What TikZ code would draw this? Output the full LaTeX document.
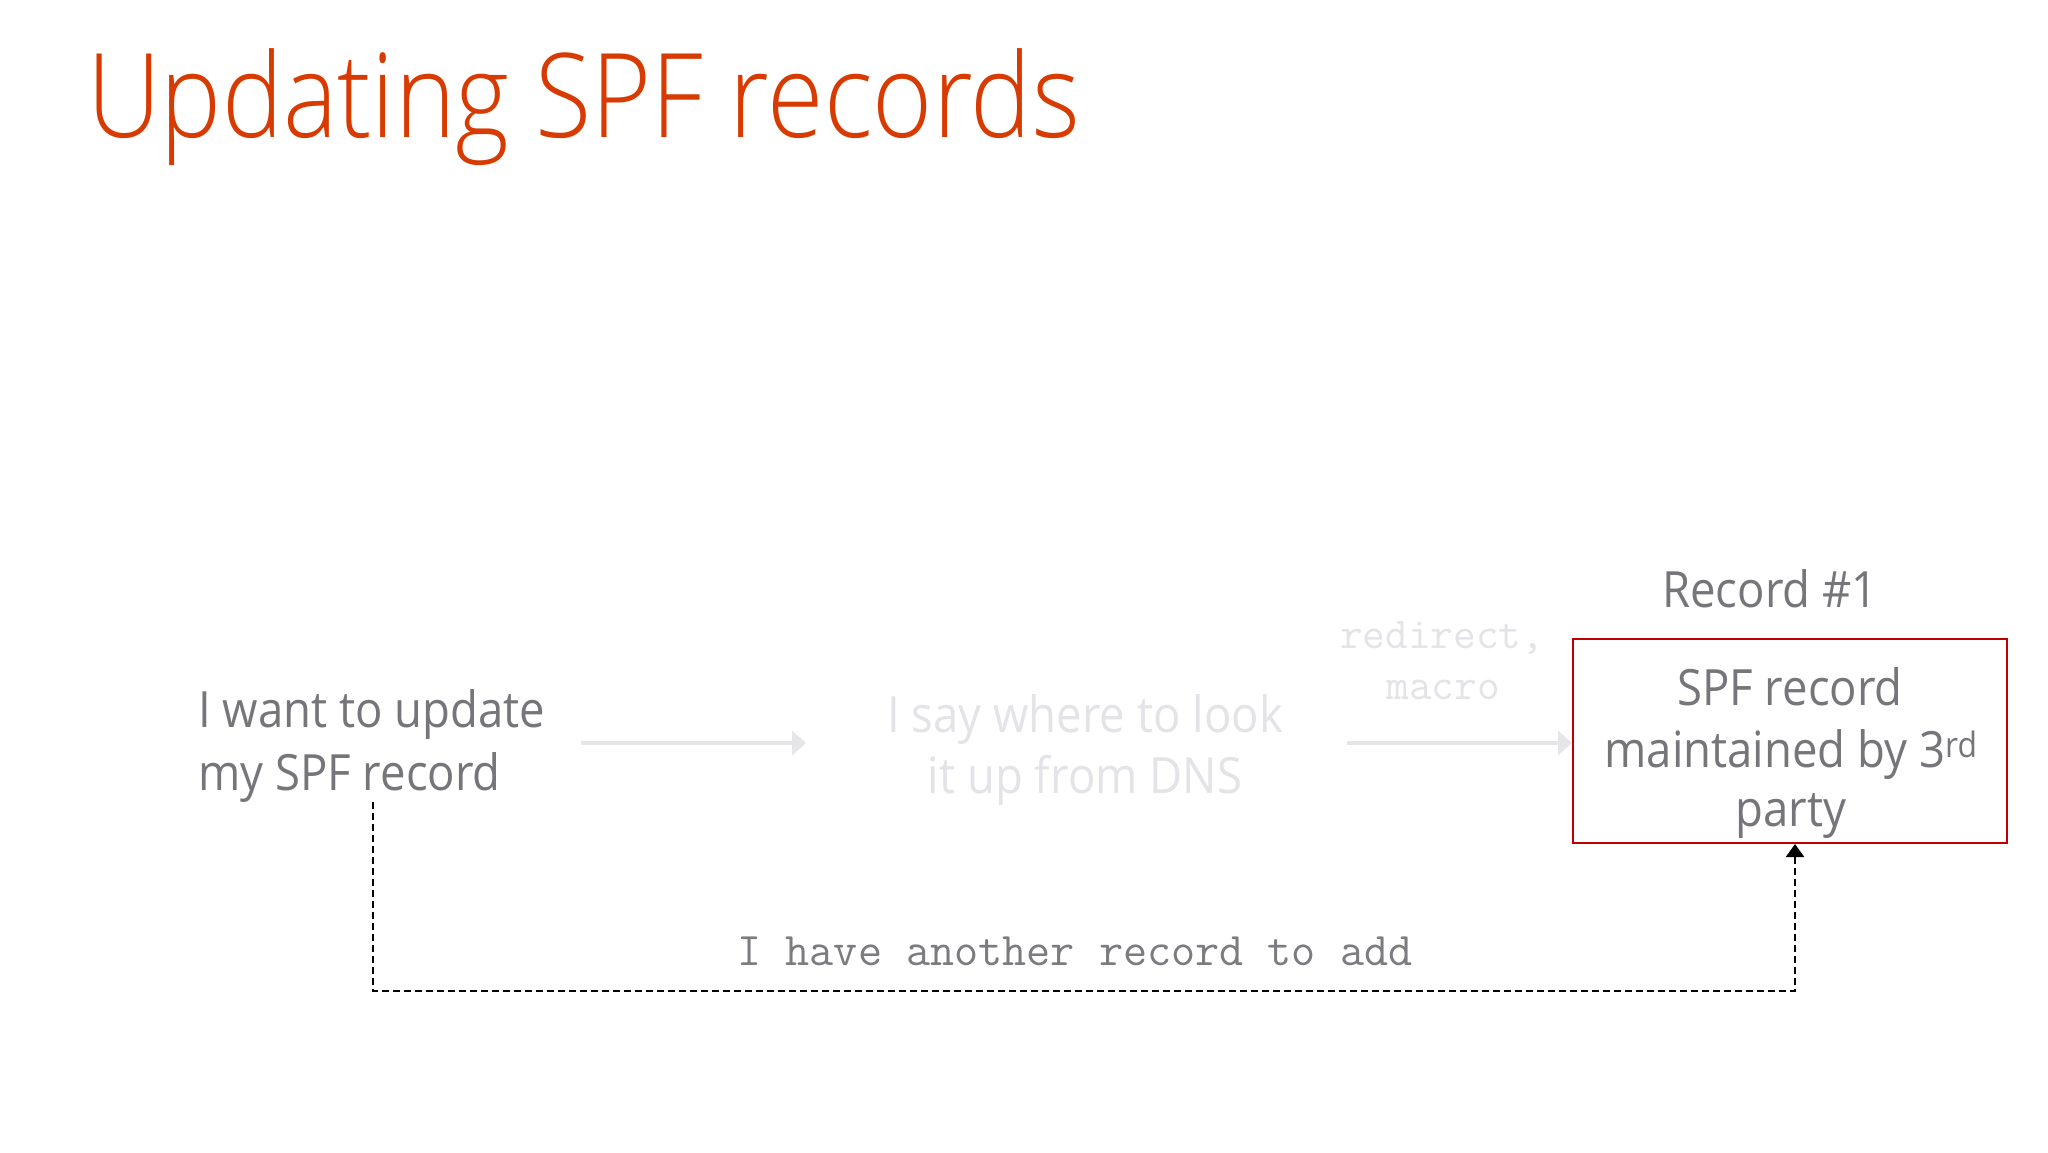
\documentclass[tikz,border=0pt]{standalone}
\usepackage{fontspec}
\setmainfont[FakeStretch=0.91]{Open Sans}
\newfontfamily\titlefont[FakeStretch=0.877]{Open Sans Light}
\setmonofont{Latin Modern Mono}
\usetikzlibrary{arrows.meta}
\definecolor{titleorange}{HTML}{D83B01}
\definecolor{bodygray}{HTML}{76767A}
\definecolor{fadegray}{HTML}{E4E3E7}
\definecolor{arrowgray}{HTML}{E6E6E8}
\definecolor{boxred}{HTML}{C00000}
\definecolor{labelgray}{HTML}{7C7C80}
\tikzset{
  titletext/.style={anchor=base west, inner sep=0pt, text=titleorange, font=\titlefont\fontsize{117}{140}\selectfont},
  bodytext/.style={inner sep=0pt, text=bodygray, font=\fontsize{50}{62}\selectfont},
  fadetext/.style={inner sep=0pt, text=fadegray, font=\fontsize{50}{62}\selectfont},
  fademono/.style={inner sep=0pt, text=fadegray, font=\ttfamily\fontsize{44}{50}\selectfont},
  monolabel/.style={inner sep=0pt, text=labelgray, font=\ttfamily\fontsize{46.8}{50}\selectfont},
  recordbox/.style={draw=boxred, line width=2pt, minimum width=434pt, minimum height=204pt, inner sep=0pt},
  flowarrow/.style={draw=arrowgray, line width=4pt, -{Triangle[length=14pt,width=24pt]}},
  backloop/.style={draw=black, line width=2pt, dash pattern=on 7pt off 4pt, -{Triangle[length=13pt,width=18pt]}}
}
\begin{document}
\begin{tikzpicture}[x=1pt,y=-1pt]
\useasboundingbox (0,0) rectangle (2048,1152);
\fill[white] (0,0) rectangle (2048,1152);
% title
\node[titletext] (title) at (87,137) {Updating SPF records};
% left text
\node[bodytext, anchor=base west] (want1) at (198,727) {I want to update};
\node[bodytext, anchor=base west] (want2) at (198,790) {my SPF record};
% middle faded text
\node[fadetext, anchor=base] (say1) at (1085,732) {I say where to look};
\node[fadetext, anchor=base] (say2) at (1085,793) {it up from DNS};
% redirect, macro
\node[fademono, anchor=base] (redir1) at (1442,648) {redirect,};
\node[fademono, anchor=base] (redir2) at (1443,699) {macro};
% record box
\node[bodytext, anchor=base] (rec) at (1770,607) {Record \#1};
\node[recordbox] (box) at (1790,741) {};
\node[bodytext, anchor=base] (box1) at (1790,705) {SPF record};
\node[bodytext, anchor=base] (box2) at (1791,767) {maintained by 3\textsuperscript{rd}};
\node[bodytext, anchor=base] (box3) at (1791,826) {party};
% flow arrows
\coordinate (a1s) at (581,743);
\coordinate (a1e) at (806,743);
\draw[flowarrow] (a1s) -- (a1e);
\coordinate (a2s) at (1347,743);
\draw[flowarrow] (a2s) -- (a2s -| box.west);
% loop back
\coordinate (d1) at (373,802);
\coordinate (d2) at (1795,991);
\draw[backloop] (d1) -- (d1 |- d2) -- (d2) -- (d2 |- box.south);
\node[monolabel, anchor=base] (loop) at (1075,965) {I have another record to add};
\end{tikzpicture}
\end{document}
